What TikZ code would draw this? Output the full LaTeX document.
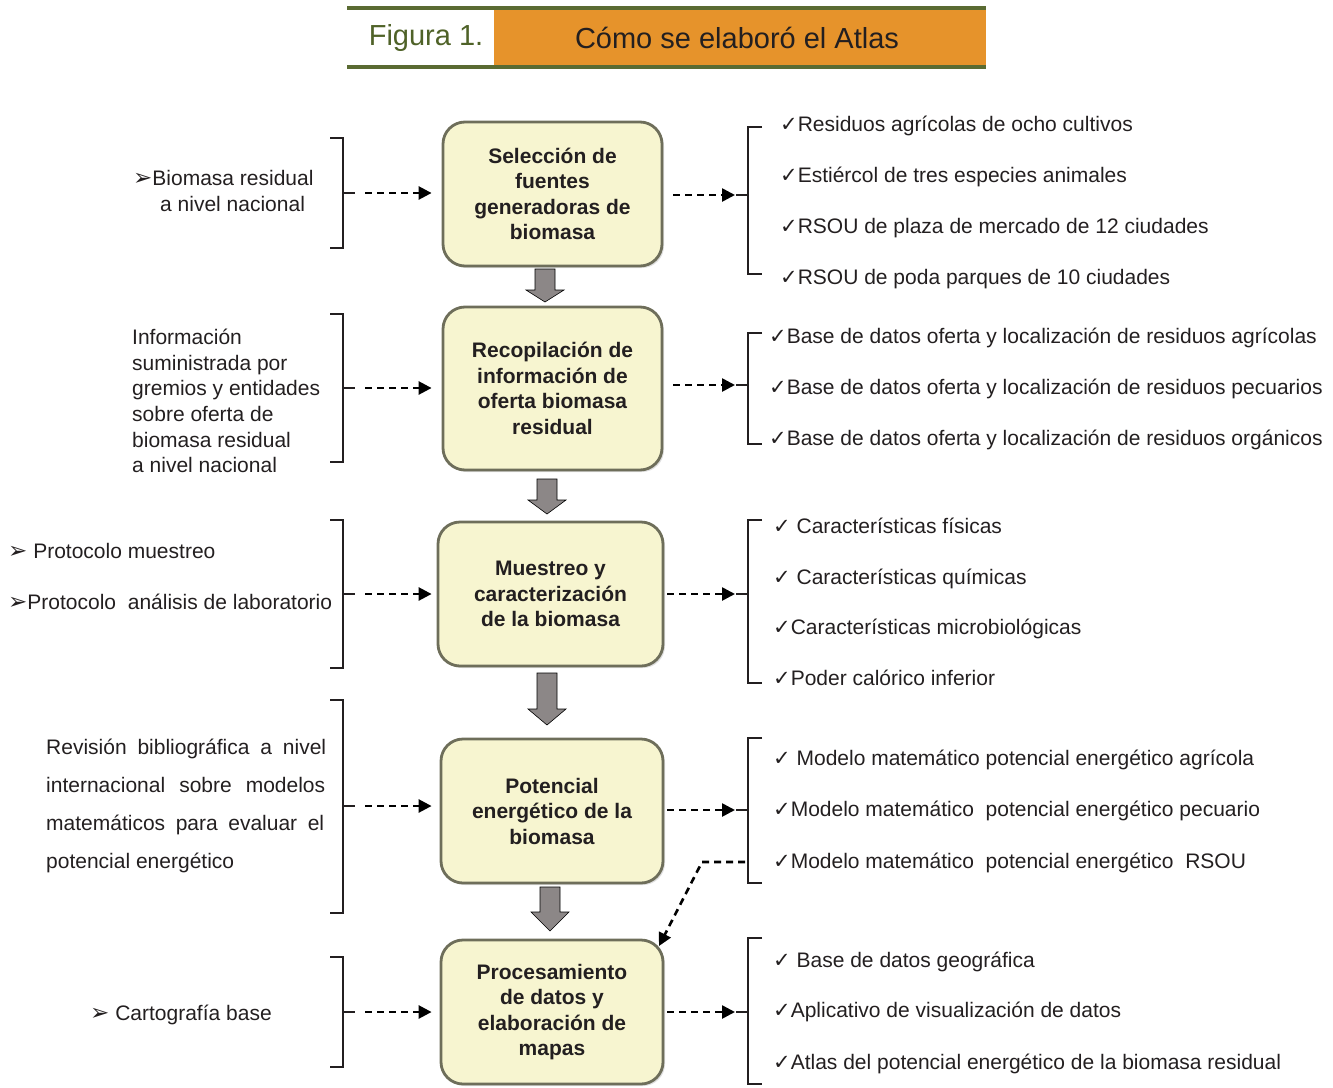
\documentclass[tikz,border=0pt]{standalone}
\usepackage{fontspec}
\setmainfont{Liberation Sans}
\newfontfamily\dvfont{DejaVu Sans}
\usetikzlibrary{arrows.meta,shadows}
\definecolor{boxfill}{HTML}{F7F5D0}
\definecolor{boxdraw}{HTML}{6E6E5A}
\definecolor{titorange}{HTML}{E6932B}
\definecolor{titgreen}{HTML}{5A6B32}
\definecolor{figgreen}{HTML}{4F6228}
\definecolor{arrgray}{HTML}{8C8787}
\definecolor{txtcol}{HTML}{231F20}
\newcommand\chk{{\dvfont\fontsize{21}{21}\selectfont ✓}}
\newcommand\tri{{\dvfont\fontsize{23}{23}\selectfont ➢}}
\newcommand\blockarr[4]{% x, top, headstart, tip
  \fill[arrgray,draw=black,line width=0.6pt]
    (#1-10,#2) -- (#1+10,#2) -- (#1+10,#3) -- (#1+19,#3) -- (#1,#4)
    -- (#1-19,#3) -- (#1-10,#3) -- cycle;}
\begin{document}
\begin{tikzpicture}[x=1pt,y=-1pt,
  stepbox/.style={rectangle, rounded corners=22pt, draw=boxdraw, line width=2.8pt,
    fill=boxfill, align=center, text=txtcol,
    font=\fontsize{21}{25.5}\selectfont\bfseries, inner sep=0pt,
    drop shadow={opacity=0.25, shadow xshift=2pt, shadow yshift=-2pt}},
  txt/.style={anchor=base west, inner sep=0pt, text=txtcol, font=\fontsize{21}{25.6}\selectfont},
  dasharr/.style={dash pattern=on 7pt off 5pt, line width=2.6pt,
    -{Triangle[length=13pt,width=13pt]}},
  brk/.style={line width=1.4pt, txtcol},
  titline/.style={line width=4pt, titgreen}]

\useasboundingbox (0,0) rectangle (1333,1087);

% title
\fill[titorange] (494,10) rectangle (986,65);
\draw[titline] (347,8) -- (986,8);
\draw[titline] (347,67) -- (986,67);
\node[font=\fontsize{29}{32}\selectfont, text=figgreen] (fig) at (426,38) {Figura 1.};
\node[font=\fontsize{29}{32}\selectfont, text=txtcol] (tit) at (737,38) {Cómo se elaboró el Atlas};

% boxes
\node[stepbox, minimum width=219pt, minimum height=144pt] (b1) at (552.5,194)
  {Selección de\\fuentes\\generadoras de\\biomasa};
\node[stepbox, minimum width=219pt, minimum height=163pt] (b2) at (552.5,388.5)
  {Recopilación de\\información de\\oferta biomasa\\residual};
\node[stepbox, minimum width=225pt, minimum height=144pt] (b3) at (550.5,594)
  {Muestreo y\\caracterización\\de la biomasa};
\node[stepbox, minimum width=222pt, minimum height=144pt] (b4) at (552,811)
  {Potencial\\energético de la\\biomasa};
\node[stepbox, minimum width=222pt, minimum height=144pt] (b5) at (552,1012)
  {Procesamiento\\de datos y\\elaboración de\\mapas};

% block arrows
\blockarr{545}{269}{290}{302}
\blockarr{547}{479}{500}{514}
\blockarr{547}{673}{709}{725}
\blockarr{550}{887}{912}{931}

% left brackets
\draw[brk] (330,138) -- (343,138) -- (343,248) -- (330,248);
\draw[brk] (330,314) -- (343,314) -- (343,462) -- (330,462);
\draw[brk] (330,520) -- (343,520) -- (343,668) -- (330,668);
\draw[brk] (330,700) -- (343,700) -- (343,913) -- (330,913);
\draw[brk] (330,957) -- (343,957) -- (343,1067) -- (330,1067);
\coordinate (lm1) at (343,193);
\coordinate (lm2) at (343,388);
\coordinate (lm3) at (343,594);
\coordinate (lm4) at (343,806);
\coordinate (lm5) at (343,1012);
\foreach \c in {lm1,lm2,lm3,lm4,lm5} \draw[brk] (\c) -- ++(12,0);
\draw[dasharr, shorten <=22pt, shorten >=10pt] (lm1) -- (lm1 -| b1.west);
\draw[dasharr, shorten <=22pt, shorten >=10pt] (lm2) -- (lm2 -| b2.west);
\draw[dasharr, shorten <=22pt, shorten >=5pt] (lm3) -- (lm3 -| b3.west);
\draw[dasharr, shorten <=22pt, shorten >=8pt] (lm4) -- (lm4 -| b4.west);
\draw[dasharr, shorten <=22pt, shorten >=8pt] (lm5) -- (lm5 -| b5.west);

% right brackets
\draw[brk] (762,127) -- (748,127) -- (748,274) -- (762,274);
\draw[brk] (762,333) -- (748,333) -- (748,444) -- (762,444);
\draw[brk] (762,520) -- (748,520) -- (748,683) -- (762,683);
\draw[brk] (762,738) -- (748,738) -- (748,883) -- (762,883);
\draw[brk] (762,938) -- (748,938) -- (748,1084) -- (762,1084);
\coordinate (rm1) at (748,195);
\coordinate (rm2) at (748,385);
\coordinate (rm3) at (748,594);
\coordinate (rm4) at (748,810);
\coordinate (rm5) at (748,1012);
\foreach \c in {rm1,rm2,rm3,rm4,rm5} \draw[brk] (\c) -- ++(-12,0);
\draw[dasharr, shorten <=10pt, shorten >=13pt] (b1.east |- rm1) -- (rm1);
\draw[dasharr, shorten <=10pt, shorten >=13pt] (b2.east |- rm2) -- (rm2);
\draw[dasharr, shorten <=3pt, shorten >=13pt] (b3.east |- rm3) -- (rm3);
\draw[dasharr, shorten <=3pt, shorten >=13pt] (b4.east |- rm4) -- (rm4);
\draw[dasharr, shorten <=3pt, shorten >=13pt] (b5.east |- rm5) -- (rm5);

% diagonal dashed arrow to box 5
\coordinate (d0) at (745,862);
\coordinate (d1) at (702,862);
\coordinate (d2) at (659,946);
\draw[dasharr] (d0) -- (d1) -- (d2);

% left texts
\node[txt] (l1a) at (133,185) {\tri Biomasa residual};
\node[txt] (l1b) at (160,211) {a nivel nacional};
\node[txt] (l2a) at (132,344) {Información};
\node[txt] (l2b) at (132,370) {suministrada por};
\node[txt] (l2c) at (132,395) {gremios y entidades};
\node[txt] (l2d) at (132,421) {sobre oferta de};
\node[txt] (l2e) at (132,447) {biomasa residual};
\node[txt] (l2f) at (132,472) {a nivel nacional};
\node[txt] (l3a) at (8,558) {\tri\ Protocolo muestreo};
\node[txt] (l3b) at (8,609) {\tri Protocolo\ \ análisis de laboratorio};
\node[txt] (l4a) at (46,754) {\makebox[280pt][s]{Revisión bibliográfica a nivel}};
\node[txt] (l4b) at (46,792) {\makebox[279pt][s]{internacional sobre modelos}};
\node[txt] (l4c) at (46,830) {\makebox[278pt][s]{matemáticos para evaluar el}};
\node[txt] (l4d) at (46,868) {potencial energético};
\node[txt] (l5a) at (90,1020) {\tri\ Cartografía base};

% right texts
\node[txt] (r1a) at (780,131) {\chk Residuos agrícolas de ocho cultivos};
\node[txt] (r1b) at (780,182) {\chk Estiércol de tres especies animales};
\node[txt] (r1c) at (780,233) {\chk RSOU de plaza de mercado de 12 ciudades};
\node[txt] (r1d) at (780,284) {\chk RSOU de poda parques de 10 ciudades};
\node[txt] (r2a) at (769,343) {\chk Base de datos oferta y localización de residuos agrícolas};
\node[txt] (r2b) at (769,394) {\chk Base de datos oferta y localización de residuos pecuarios};
\node[txt] (r2c) at (769,445) {\chk Base de datos oferta y localización de residuos orgánicos};
\node[txt] (r3a) at (773,533) {\chk\ Características físicas};
\node[txt] (r3b) at (773,584) {\chk\ Características químicas};
\node[txt] (r3c) at (773,634) {\chk Características microbiológicas};
\node[txt] (r3d) at (773,685) {\chk Poder calórico inferior};
\node[txt] (r4a) at (773,765) {\chk\ Modelo matemático potencial energético agrícola};
\node[txt] (r4b) at (773,816) {\chk Modelo matemático\ \ potencial energético pecuario};
\node[txt] (r4c) at (773,868) {\chk Modelo matemático\ \ potencial energético\ \ RSOU};
\node[txt] (r5a) at (773,967) {\chk\ Base de datos geográfica};
\node[txt] (r5b) at (773,1017) {\chk Aplicativo de visualización de datos};
\node[txt] (r5c) at (773,1069) {\chk Atlas del potencial energético de la biomasa residual};
\end{tikzpicture}
\end{document}
